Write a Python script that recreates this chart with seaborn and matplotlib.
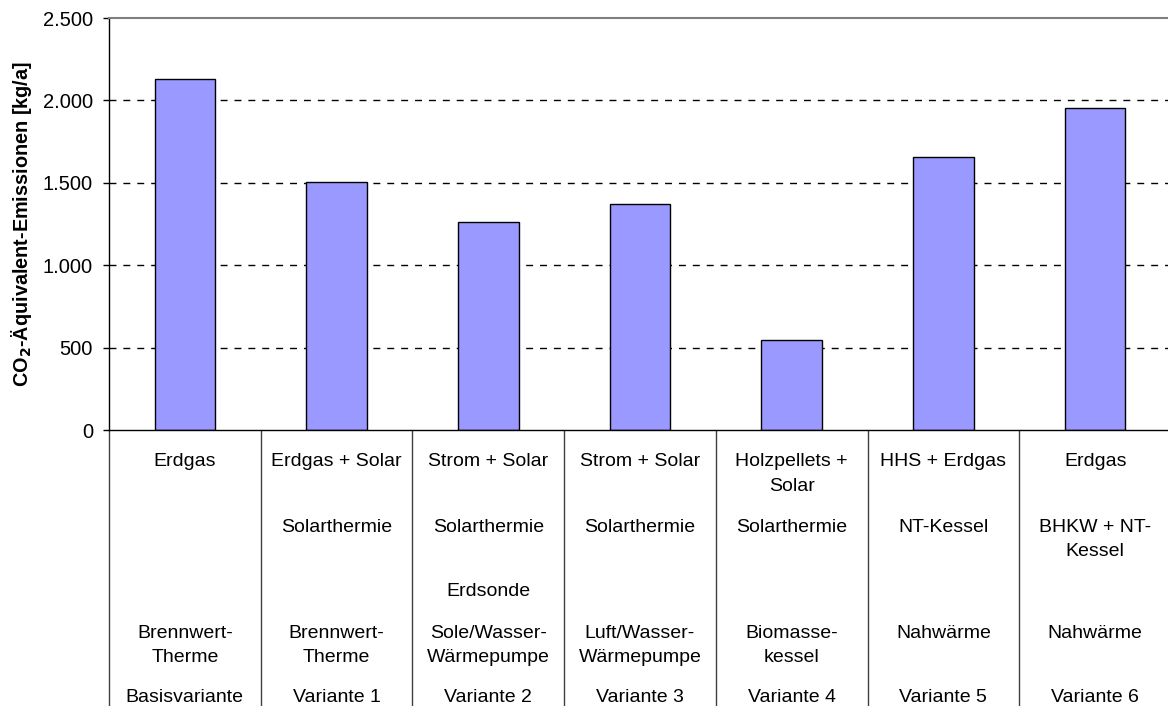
import matplotlib
matplotlib.use('Agg')
import matplotlib.pyplot as plt
import matplotlib.transforms as mtransforms
from matplotlib.ticker import FuncFormatter
import seaborn as sns

# Daten
varianten = ['Basisvariante', 'Variante 1', 'Variante 2', 'Variante 3',
             'Variante 4', 'Variante 5', 'Variante 6']
emissionen = [2130, 1505, 1265, 1370, 545, 1655, 1955]

energietraeger = ['Erdgas', 'Erdgas + Solar', 'Strom + Solar', 'Strom + Solar',
                  'Holzpellets +\nSolar', 'HHS + Erdgas', 'Erdgas']
zusatz = ['', 'Solarthermie', 'Solarthermie', 'Solarthermie', 'Solarthermie',
          'NT-Kessel', 'BHKW + NT-\nKessel']
quelle = ['', '', 'Erdsonde', '', '', '', '']
erzeuger = ['Brennwert-\nTherme', 'Brennwert-\nTherme', 'Sole/Wasser-\nWärmepumpe',
            'Luft/Wasser-\nWärmepumpe', 'Biomasse-\nkessel', 'Nahwärme', 'Nahwärme']

sns.set_style('white')
plt.rcParams['font.family'] = ['Liberation Sans', 'DejaVu Sans']
plt.rcParams['text.color'] = 'black'
plt.rcParams['ytick.labelcolor'] = 'black'

W, H = 1168, 706
fig = plt.figure(figsize=(W / 100, H / 100), dpi=100)
ax = fig.add_axes([109 / W, 1 - 430 / H, (1171 - 109) / W, (430 - 18) / H])

# Gitterlinien
for v in [500, 1000, 1500, 2000]:
    ax.axhline(v, color='black', lw=1, ls=(0, (5, 5)), zorder=0)

sns.barplot(x=varianten, y=emissionen, color='#9999FF', edgecolor='black',
            linewidth=1, width=0.4, saturation=1, ax=ax, zorder=2)

ax.set_ylim(0, 2500)
ax.set_xlim(-0.5, len(varianten) - 0.5)
ax.set_xticks([])
ax.set_xlabel('')
ax.set_ylabel('')
ax.yaxis.set_major_formatter(FuncFormatter(lambda v, p: f'{v:,.0f}'.replace(',', '.')))
ax.set_yticks([0, 500, 1000, 1500, 2000, 2500])
ax.tick_params(axis='y', left=True, length=4.5, width=1, pad=7, labelsize=14.5,
               color='black', labelcolor='black')

for s in ['left', 'bottom']:
    ax.spines[s].set_color('black')
    ax.spines[s].set_linewidth(1)
ax.spines['top'].set_color('#808080')
ax.spines['top'].set_linewidth(1.5)
ax.spines['right'].set_visible(False)

fig.text(22 / W, 1 - 224 / H, r'CO$_\mathbf{2}$-Äquivalent-Emissionen [kg/a]',
         rotation=90, ha='center', va='center', fontsize=14.3, fontweight='bold')

# Mehrstufige Kategorienachse
trans = mtransforms.blended_transform_factory(ax.transData, fig.transFigure)
for i in range(len(varianten) + 1):
    x = i - 0.5
    ax.plot([x, x], [1 - 430 / H, 0], transform=trans, color='#404040',
            lw=1, clip_on=False)

zeilen = [(energietraeger, 462), (zusatz, 527), (quelle, 592),
          (erzeuger, 633), (varianten, 697)]
for texte, y0 in zeilen:
    for i, t in enumerate(texte):
        for k, line in enumerate(t.split('\n')):
            if line:
                ax.text(i, 1 - (y0 + k * 24.5) / H, line, transform=trans,
                        ha='center', va='center', fontsize=14)

fig.savefig('out.png', dpi=100)
